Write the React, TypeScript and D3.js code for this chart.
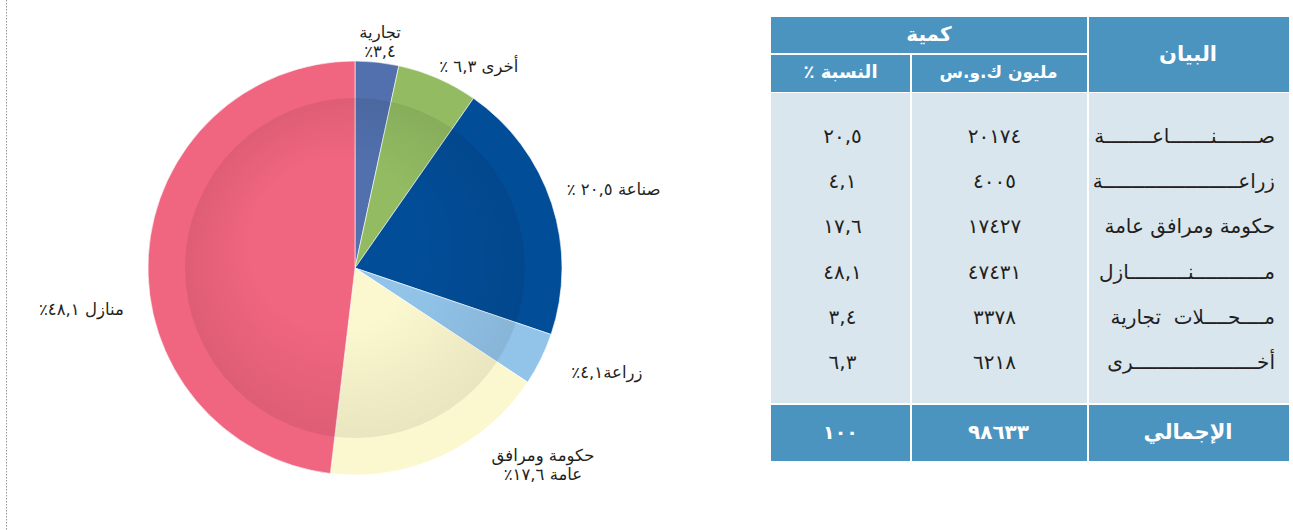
import React from "react";
import * as d3 from "d3";

// ---------- data ----------
const sectors = ["تجارية", "أخرى", "صناعة", "زراعة", "حكومة ومرافق عامة", "منازل"];
const shares = [3.4, 6.3, 20.5, 4.1, 17.6, 48.1];
const pieLabelLines = [
  ["تجارية", "٣,٤٪"],
  ["أخرى ٦,٣ ٪"],
  ["صناعة ٢٠,٥ ٪"],
  ["زراعة٤,١٪"],
  ["حكومة ومرافق", "عامة ١٧,٦٪"],
  ["منازل ٤٨,١٪"],
];

const tableLabels = [
  "صـــــــنـــــــاعــــــــة",
  "زراعـــــــــــــــــــــــة",
  "حكومة ومرافق عامة",
  "مــــــــــــنــــــــــازل",
  "مــــحــــلات\u00a0\u00a0تجارية",
  "أخـــــــــــــــــــــرى",
];
const tableAmounts = ["٢٠١٧٤", "٤٠٠٥", "١٧٤٢٧", "٤٧٤٣١", "٣٣٧٨", "٦٢١٨"];
const tablePercents = ["٢٠,٥", "٤,١", "١٧,٦", "٤٨,١", "٣,٤", "٦,٣"];
const headerTop = "كمية";
const headerLabel = "البيان";
const headerAmount = "مليون ك.و.س";
const headerPercent = "النسبة ٪";
const totalLabel = "الإجمالي";
const totalAmount = "٩٨٦٣٣";
const totalPercent = "١٠٠";

// ---------- styles ----------
const sliceColors = ["#5170ad", "#92bb62", "#024d98", "#92c4ea", "#fbf8cf", "#f0657f"];
const labelOffsets = [
  [3, -20],
  [41, -11],
  [62, -13],
  [66, 14],
  [101, 10],
  [-67, 54],
];
const headBg = "#4b94bf";
const bodyBg = "#dae6ee";
const FONT = "'DejaVu Sans', sans-serif";

export default function App() {
  const W = 1293;
  const H = 530;
  const cx = 355;
  const cy = 268;
  const R = 207;
  const innerR = 170;

  const pie = d3.pie<number>().sort(null).value((d) => d)(shares);
  const arc = d3.arc<d3.PieArcDatum<number>>().innerRadius(0).outerRadius(R);

  // table geometry
  const x0 = 771, x1 = 910, x2 = 1087, x3 = 1289;
  const yHead0 = 17, yHeadMid = 54, yHead1 = 92, yBodyEnd = 403, yFoot0 = 405, yFoot1 = 461;
  const rowScale = d3
    .scaleBand<number>()
    .domain(d3.range(tableLabels.length))
    .range([114.5, 386.5]);
  const colCenter = {
    pct: (x0 + x1) / 2,
    amt: (x1 + x2) / 2,
    lab: (x2 + x3) / 2,
  };

  return (
    <div style={{ position: "absolute", left: 0, top: 0 }}>
      <svg width={W} height={H} style={{ display: "block", background: "#fff" }}>
        <defs>
          <radialGradient id="shade" cx="50%" cy="50%" r="50%" fx="38%" fy="36%">
            <stop offset="0" stopColor="#000" stopOpacity="0" />
            <stop offset="0.5" stopColor="#000" stopOpacity="0" />
            <stop offset="1" stopColor="#000" stopOpacity="0.075" />
          </radialGradient>
        </defs>

        {/* left dotted rule */}
        <line x1={6.5} x2={6.5} y1={0} y2={H} stroke="#999" strokeWidth={1} strokeDasharray="1.5,1.5" />

        {/* pie */}
        <g transform={`translate(${cx},${cy})`}>
          {pie.map((p, i) => (
            <path key={i} d={arc(p) || ""} fill={sliceColors[i]} stroke="#fff" strokeWidth={0.6} />
          ))}
          <circle r={innerR} fill="url(#shade)" />
        </g>

        {/* pie labels */}
        {pie.map((p, i) => {
          const mid = (p.startAngle + p.endAngle) / 2;
          const bx = cx + R * Math.sin(mid) + labelOffsets[i][0];
          const by = cy - R * Math.cos(mid) + labelOffsets[i][1];
          const lines = pieLabelLines[i];
          const lh = 19;
          return (
            <text
              key={i}
              x={bx}
              y={by - ((lines.length - 1) * lh) / 2}
              textAnchor="middle"
              direction="rtl"
              fontFamily={FONT}
              fontSize={16.5}
              fill="#231f20"
              dominantBaseline="middle"
            >
              {lines.map((l, j) => (
                <tspan key={j} x={bx} dy={j === 0 ? 0 : lh}>
                  {l}
                </tspan>
              ))}
            </text>
          );
        })}

        {/* table: header */}
        <rect x={x0} y={yHead0} width={x2 - x0} height={yHeadMid - yHead0 - 1} fill={headBg} />
        <rect x={x2 + 2} y={yHead0} width={x3 - x2 - 2} height={yHead1 - yHead0} fill={headBg} />
        <rect x={x0} y={yHeadMid + 1} width={x1 - x0} height={yHead1 - yHeadMid - 1} fill={headBg} />
        <rect x={x1 + 2} y={yHeadMid + 1} width={x2 - x1 - 2} height={yHead1 - yHeadMid - 1} fill={headBg} />
        {/* body */}
        <rect x={x0} y={yHead1 + 1} width={x1 - x0} height={yBodyEnd - yHead1 - 1} fill={bodyBg} />
        <rect x={x1 + 2} y={yHead1 + 1} width={x2 - x1 - 2} height={yBodyEnd - yHead1 - 1} fill={bodyBg} />
        <rect x={x2 + 2} y={yHead1 + 1} width={x3 - x2 - 2} height={yBodyEnd - yHead1 - 1} fill={bodyBg} />
        {/* footer */}
        <rect x={x0} y={yFoot0} width={x1 - x0} height={yFoot1 - yFoot0} fill={headBg} />
        <rect x={x1 + 2} y={yFoot0} width={x2 - x1 - 2} height={yFoot1 - yFoot0} fill={headBg} />
        <rect x={x2 + 2} y={yFoot0} width={x3 - x2 - 2} height={yFoot1 - yFoot0} fill={headBg} />

        <g fontFamily={FONT} fill="#fff" fontWeight="bold" direction="rtl" textAnchor="middle" dominantBaseline="middle">
          <text x={(x0 + x2) / 2} y={(yHead0 + yHeadMid) / 2} fontSize={20}>{headerTop}</text>
          <text x={colCenter.lab} y={(yHead0 + yHead1) / 2} fontSize={21}>{headerLabel}</text>
          <text x={colCenter.amt} y={(yHeadMid + yHead1) / 2} fontSize={17}>{headerAmount}</text>
          <text x={colCenter.pct} y={(yHeadMid + yHead1) / 2} fontSize={18}>{headerPercent}</text>
          <text x={colCenter.lab} y={(yFoot0 + yFoot1) / 2} fontSize={21}>{totalLabel}</text>
          <text x={colCenter.amt} y={(yFoot0 + yFoot1) / 2} fontSize={20} letterSpacing={1}>{totalAmount}</text>
          <text x={colCenter.pct} y={(yFoot0 + yFoot1) / 2} fontSize={19} letterSpacing={3}>{totalPercent}</text>
        </g>

        <g fontFamily={FONT} fill="#231f20" fontSize={20} direction="rtl" dominantBaseline="middle">
          {tableLabels.map((l, i) => {
            const y = (rowScale(i) || 0) + rowScale.bandwidth() / 2;
            return (
              <g key={i}>
                <text x={1275} y={y} textAnchor="start">{l}</text>
                <text x={colCenter.amt - 4} y={y} textAnchor="middle" letterSpacing={4}>{tableAmounts[i]}</text>
                <text x={colCenter.pct + 2} y={y} textAnchor="middle" letterSpacing={4}>{tablePercents[i]}</text>
              </g>
            );
          })}
        </g>
      </svg>
    </div>
  );
}
